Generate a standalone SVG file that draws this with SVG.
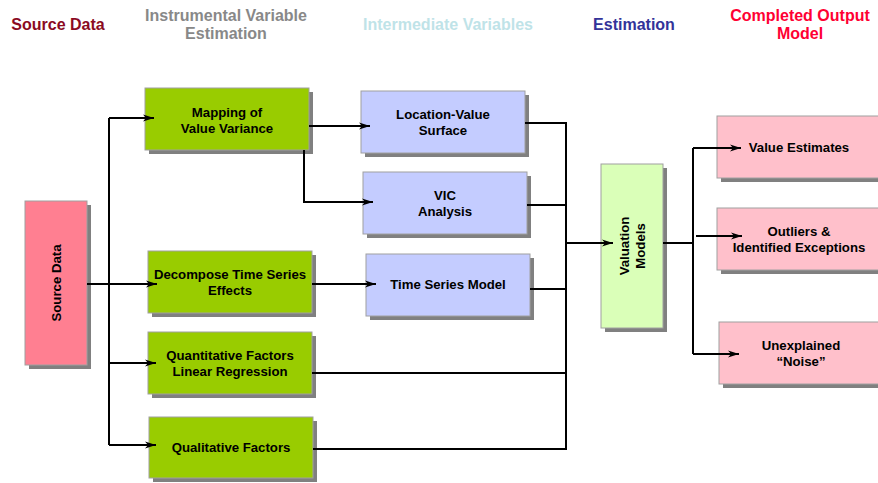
<svg xmlns="http://www.w3.org/2000/svg" width="878" height="483" viewBox="0 0 878 483">
<style>
text{font-family:"Liberation Sans",Arial,sans-serif;font-weight:bold;text-anchor:middle}
.hd{font-size:16px}
.t{font-size:13.2px;fill:#000}
.sh{fill:#808080}
.bx{stroke:#A0A0A0;stroke-width:1}
.src{fill:#FF7F91}
.grn{fill:#99CC00}
.blu{fill:#C4CCFF}
.val{fill:#DAFFB8}
.out{fill:#FFC0CB}
.ln{fill:none;stroke:#000;stroke-width:2}
</style>
<defs>
<marker id="ah" markerUnits="userSpaceOnUse" markerWidth="12" markerHeight="8" refX="11" refY="4" orient="auto">
<path d="M0,0.5 L11,4 L0,7.5 L3,4 z" fill="#000"/>
</marker>
</defs>
<rect width="878" height="483" fill="#fff"/>
<g id="headers">
<text class="hd" x="58" y="30" fill="#8B0A22">Source Data</text>
<text class="hd" x="226" y="21" fill="#888888">Instrumental Variable</text>
<text class="hd" x="226" y="39" fill="#888888">Estimation</text>
<text class="hd" x="448" y="30" fill="#BFE3E8">Intermediate Variables</text>
<text class="hd" x="634" y="30" fill="#333399">Estimation</text>
<text class="hd" x="800" y="21" fill="#FF0033">Completed Output</text>
<text class="hd" x="800" y="39" fill="#FF0033">Model</text>
</g>
<g id="source">
<rect class="sh" x="29" y="205" width="62" height="164"/>
<rect class="bx src" x="25" y="201" width="62" height="164"/>
<text class="t" transform="translate(61,283) rotate(-90)" x="0" y="0">Source Data</text>
</g>
<g id="mapping">
<rect class="sh" x="149" y="92" width="164" height="62"/>
<rect class="bx grn" x="145" y="88" width="164" height="62"/>
<text class="t" x="227" y="117">Mapping of</text>
<text class="t" x="227" y="133">Value Variance</text>
</g>
<g id="decompose">
<rect class="sh" x="152" y="255" width="164" height="62"/>
<rect class="bx grn" x="148" y="251" width="164" height="62"/>
<text class="t" x="230" y="279">Decompose Time Series</text>
<text class="t" x="230" y="295">Effects</text>
</g>
<g id="quantitative">
<rect class="sh" x="152" y="336" width="164" height="62"/>
<rect class="bx grn" x="148" y="332" width="164" height="62"/>
<text class="t" x="230" y="360">Quantitative Factors</text>
<text class="t" x="230" y="376">Linear Regression</text>
</g>
<g id="qualitative">
<rect class="sh" x="153" y="421" width="164" height="61"/>
<rect class="bx grn" x="149" y="417" width="164" height="61"/>
<text class="t" x="231" y="452">Qualitative Factors</text>
</g>
<g id="location">
<rect class="sh" x="365" y="95" width="164" height="62"/>
<rect class="bx blu" x="361" y="91" width="164" height="62"/>
<text class="t" x="443" y="119">Location-Value</text>
<text class="t" x="443" y="135">Surface</text>
</g>
<g id="vic">
<rect class="sh" x="367" y="176" width="164" height="62"/>
<rect class="bx blu" x="363" y="172" width="164" height="62"/>
<text class="t" x="445" y="200">VIC</text>
<text class="t" x="445" y="216">Analysis</text>
</g>
<g id="timeseries">
<rect class="sh" x="370" y="258" width="164" height="62"/>
<rect class="bx blu" x="366" y="254" width="164" height="62"/>
<text class="t" x="448" y="289">Time Series Model</text>
</g>
<g id="valuation">
<rect class="sh" x="605" y="168" width="62" height="164"/>
<rect class="bx val" x="601" y="164" width="62" height="164"/>
<text class="t" transform="translate(632,246) rotate(-90)" x="0" y="-3">Valuation</text>
<text class="t" transform="translate(632,246) rotate(-90)" x="0" y="13">Models</text>
</g>
<g id="valueEstimates">
<rect class="sh" x="721" y="120" width="164" height="62"/>
<rect class="bx out" x="717" y="116" width="164" height="62"/>
<text class="t" x="799" y="152">Value Estimates</text>
</g>
<g id="outliers">
<rect class="sh" x="721" y="212" width="164" height="62"/>
<rect class="bx out" x="717" y="208" width="164" height="62"/>
<text class="t" x="799" y="236">Outliers &amp;</text>
<text class="t" x="799" y="252">Identified Exceptions</text>
</g>
<g id="noise">
<rect class="sh" x="723" y="326" width="164" height="62"/>
<rect class="bx out" x="719" y="322" width="164" height="62"/>
<text class="t" x="801" y="350">Unexplained</text>
<text class="t" x="801" y="366">“Noise”</text>
</g>
<g id="connectors" class="ln">
<path class="ln" d="M109,118 V445"/>
<path class="ln" d="M87,284 H157" marker-end="url(#ah)"/>
<path class="ln" d="M109,118 H154" marker-end="url(#ah)"/>
<path class="ln" d="M109,363 H156" marker-end="url(#ah)"/>
<path class="ln" d="M109,445 H156" marker-end="url(#ah)"/>
<path class="ln" d="M309,126 H370" marker-end="url(#ah)"/>
<path class="ln" d="M304,150 V202 H373" marker-end="url(#ah)"/>
<path class="ln" d="M312,284 H376" marker-end="url(#ah)"/>
<path class="ln" d="M525,123 H566 V449 H313"/>
<path class="ln" d="M527,205 H566"/>
<path class="ln" d="M530,289 H566"/>
<path class="ln" d="M312,373 H566"/>
<path class="ln" d="M566,243 H613" marker-end="url(#ah)"/>
<path class="ln" d="M663,243 H693"/>
<path class="ln" d="M693,148 V354"/>
<path class="ln" d="M693,148 H741" marker-end="url(#ah)"/>
<path class="ln" d="M696,236 H742" marker-end="url(#ah)"/>
<path class="ln" d="M693,354 H739" marker-end="url(#ah)"/>
</g>
</svg>
